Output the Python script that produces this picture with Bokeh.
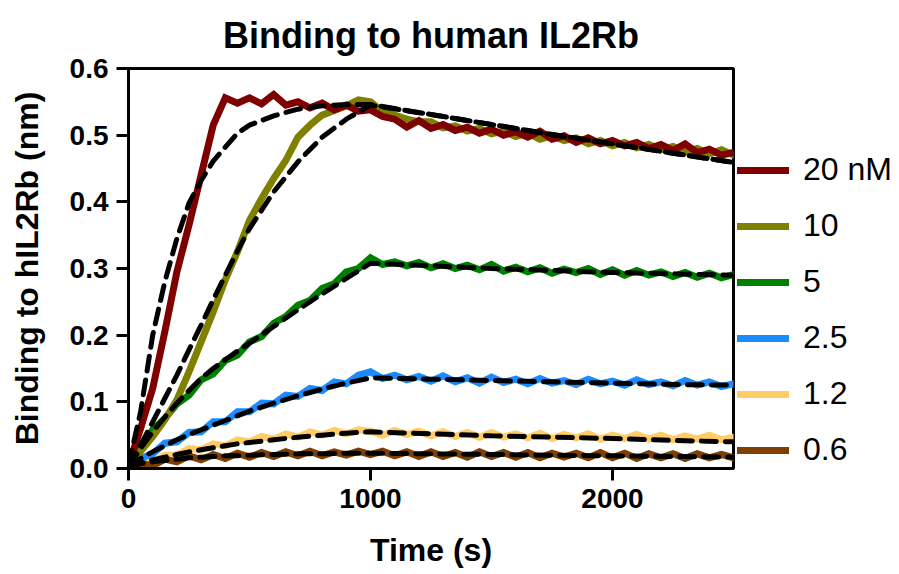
from bokeh.plotting import figure
from bokeh.models import (Range1d, FixedTicker, PrintfTickFormatter, Legend, LegendItem, Title)
from bokeh.embed import file_html
from bokeh.resources import INLINE

# ---- data ----
time_s = [0, 50, 100, 150, 200, 250, 300, 350, 400, 450,
          500, 550, 600, 650, 700, 750, 800, 850, 900, 950,
          1000, 1050, 1100, 1150, 1200, 1250, 1300, 1350, 1400, 1450,
          1500, 1550, 1600, 1650, 1700, 1750, 1800, 1850, 1900, 1950,
          2000, 2050, 2100, 2150, 2200, 2250, 2300, 2350, 2400, 2450,
          2500]

trace_20 = [0.005, 0.06, 0.12, 0.205, 0.295, 0.365, 0.44, 0.515, 0.556, 0.548,
            0.556, 0.547, 0.561, 0.545, 0.55, 0.541, 0.548, 0.538, 0.545, 0.536,
            0.538, 0.528, 0.524, 0.512, 0.522, 0.51, 0.516, 0.507, 0.512, 0.503,
            0.509, 0.5, 0.505, 0.497, 0.506, 0.494, 0.499, 0.489, 0.496, 0.487,
            0.492, 0.484, 0.489, 0.48, 0.486, 0.477, 0.487, 0.474, 0.479, 0.47,
            0.474]
trace_10 = [0.0, 0.026, 0.048, 0.073, 0.103, 0.145, 0.19, 0.235, 0.283, 0.325,
            0.372, 0.405, 0.435, 0.462, 0.497, 0.515, 0.53, 0.537, 0.544, 0.553,
            0.55, 0.535, 0.53, 0.524, 0.52, 0.52, 0.511, 0.514, 0.506, 0.51,
            0.502, 0.506, 0.498, 0.503, 0.494, 0.499, 0.492, 0.496, 0.487, 0.492,
            0.484, 0.489, 0.481, 0.486, 0.478, 0.483, 0.475, 0.48, 0.472, 0.478,
            0.47]
trace_5 = [0.0, 0.03, 0.058, 0.075, 0.097, 0.11, 0.133, 0.142, 0.162, 0.17,
           0.19, 0.198, 0.218, 0.228, 0.245, 0.252, 0.27, 0.277, 0.295, 0.3,
           0.316, 0.306, 0.31, 0.304, 0.309, 0.301, 0.307, 0.3, 0.305, 0.298,
           0.306, 0.296, 0.302, 0.295, 0.301, 0.293, 0.299, 0.294, 0.3, 0.291,
           0.298, 0.29, 0.297, 0.29, 0.295, 0.288, 0.294, 0.287, 0.293, 0.286,
           0.291]
trace_2_5 = [0.0, 0.015, 0.022, 0.038, 0.04, 0.054, 0.055, 0.07, 0.07, 0.085,
             0.085, 0.098, 0.097, 0.11, 0.108, 0.12, 0.117, 0.13, 0.127, 0.14,
             0.145, 0.135, 0.14, 0.133, 0.138, 0.131, 0.139, 0.13, 0.136, 0.128,
             0.137, 0.129, 0.134, 0.127, 0.135, 0.128, 0.132, 0.126, 0.134, 0.127,
             0.131, 0.125, 0.133, 0.126, 0.13, 0.124, 0.132, 0.125, 0.13, 0.123,
             0.127]
trace_1_2 = [0.0, 0.012, 0.01, 0.02, 0.02, 0.03, 0.028, 0.037, 0.034, 0.043,
             0.04, 0.048, 0.044, 0.052, 0.047, 0.055, 0.05, 0.057, 0.052, 0.058,
             0.056, 0.05, 0.057, 0.051, 0.056, 0.049, 0.055, 0.048, 0.054, 0.047,
             0.054, 0.047, 0.052, 0.046, 0.053, 0.045, 0.051, 0.046, 0.052, 0.044,
             0.05, 0.045, 0.051, 0.044, 0.05, 0.043, 0.049, 0.044, 0.05, 0.043,
             0.047]
trace_0_6 = [0.0, 0.008, 0.004, 0.014, 0.01, 0.019, 0.013, 0.021, 0.015, 0.023,
             0.017, 0.024, 0.018, 0.025, 0.019, 0.026, 0.019, 0.025, 0.02, 0.026,
             0.021, 0.026, 0.019, 0.025, 0.018, 0.025, 0.018, 0.024, 0.017, 0.025,
             0.018, 0.024, 0.017, 0.024, 0.016, 0.023, 0.017, 0.023, 0.016, 0.024,
             0.016, 0.023, 0.015, 0.022, 0.016, 0.022, 0.015, 0.022, 0.016, 0.021,
             0.016]

fit_time = [0, 50, 100, 150, 200, 250, 300, 350, 400, 450, 500,
            600, 700, 800, 900, 1000, 1250, 1500, 1750, 2000, 2250, 2500]
fit_20 = [0.005, 0.085, 0.2, 0.28, 0.345, 0.398, 0.432, 0.461, 0.482, 0.503, 0.515,
          0.529, 0.539, 0.544, 0.546, 0.546, 0.531, 0.516, 0.501, 0.487, 0.473, 0.459]
fit_10 = [0.003, 0.035, 0.07, 0.105, 0.14, 0.178, 0.215, 0.253, 0.29, 0.326, 0.36,
          0.415, 0.46, 0.497, 0.524, 0.545, 0.531, 0.516, 0.501, 0.487, 0.473, 0.459]
fit_5 = [0.003, 0.03, 0.055, 0.077, 0.098, 0.117, 0.135, 0.15, 0.163, 0.176, 0.188,
         0.213, 0.238, 0.262, 0.285, 0.308, 0.304, 0.3, 0.297, 0.294, 0.292, 0.29]
fit_2_5 = [0.003, 0.015, 0.025, 0.034, 0.043, 0.051, 0.058, 0.065, 0.072, 0.079, 0.086,
           0.098, 0.109, 0.119, 0.128, 0.136, 0.134, 0.132, 0.13, 0.128, 0.126, 0.125]
fit_1_2 = [0.003, 0.008, 0.013, 0.017, 0.021, 0.025, 0.028, 0.031, 0.034, 0.037, 0.039,
           0.043, 0.047, 0.05, 0.053, 0.055, 0.052, 0.049, 0.047, 0.045, 0.042, 0.04]
fit_0_6 = [0.003, 0.007, 0.01, 0.012, 0.014, 0.016, 0.017, 0.018, 0.019, 0.019, 0.02,
           0.021, 0.022, 0.022, 0.023, 0.023, 0.022, 0.021, 0.02, 0.019, 0.018, 0.017]

labels = ["20 nM", "10", "5", "2.5", "1.2", "0.6"]
colors = ["#7f0000", "#808000", "#008000", "#1a8cff", "#ffcc66", "#7f3f00"]
y_ticks = [0.0, 0.1, 0.2, 0.3, 0.4, 0.5, 0.6]
x_ticks = [0, 1000, 2000]

FONT = "Liberation Sans"

p = figure(frame_width=605, frame_height=400, output_backend="svg", toolbar_location=None,
           x_range=Range1d(0, 2500), y_range=Range1d(0, 0.6),
           min_border_left=128, min_border_right=166, min_border_top=68,
           min_border_bottom=106)

p.title = Title(text="Binding to human IL2Rb", align="center",
                text_font=FONT, text_font_style="bold", text_font_size="36px",
                text_color="black", standoff=25, text_line_height=0.8)

traces = [trace_20, trace_10, trace_5, trace_2_5, trace_1_2, trace_0_6]
fits = [fit_20, fit_10, fit_5, fit_2_5, fit_1_2, fit_0_6]

renderers = {}
draw_order = [4, 5, 3, 2, 1, 0]
for i in draw_order:
    r = p.line(time_s, traces[i], line_color=colors[i], line_width=7,
               line_join="miter", line_cap="round")
    renderers[i] = r

for i in range(6):
    p.line(fit_time, fits[i], line_color="black", line_width=5,
           line_dash="15 9", line_cap="round")

legend = Legend(items=[LegendItem(label=labels[i], renderers=[renderers[i]]) for i in range(6)],
                location=(4, 0), orientation="vertical",
                glyph_width=52, glyph_height=36, label_height=36, spacing=19,
                label_standoff=14, padding=0, margin=0,
                border_line_color=None, background_fill_alpha=0,
                label_text_font=FONT, label_text_font_size="32px",
                label_text_color="black")
p.add_layout(legend, "right")

p.xgrid.grid_line_color = None
p.ygrid.grid_line_color = None
p.outline_line_color = "black"
p.outline_line_width = 3
p.outline_line_alpha = 1

for ax in (p.xaxis[0], p.yaxis[0]):
    ax.axis_line_width = 3
    ax.major_tick_line_width = 3
    ax.major_tick_out = 12
    ax.major_tick_in = 0
    ax.minor_tick_out = 0
    ax.minor_tick_in = 0
    ax.major_label_text_font = FONT
    ax.major_label_text_font_style = "bold"
    ax.major_label_text_font_size = "28px"
    ax.major_label_text_color = "black"
    ax.axis_label_text_font = FONT
    ax.axis_label_text_font_style = "bold"
    ax.axis_label_text_font_size = "32px"
    ax.axis_label_text_color = "black"

p.xaxis.ticker = FixedTicker(ticks=x_ticks)
p.yaxis.ticker = FixedTicker(ticks=y_ticks)
p.yaxis.formatter = PrintfTickFormatter(format="%.1f")
p.xaxis.axis_label = "Time (s)"
p.yaxis.axis_label = "Binding to hIL2Rb (nm)"
p.xaxis.major_label_standoff = 8
p.xaxis.axis_label_standoff = 21
p.yaxis.major_label_standoff = 8
p.yaxis.axis_label_standoff = 22

open("out.html", "w").write(file_html(p, INLINE))
